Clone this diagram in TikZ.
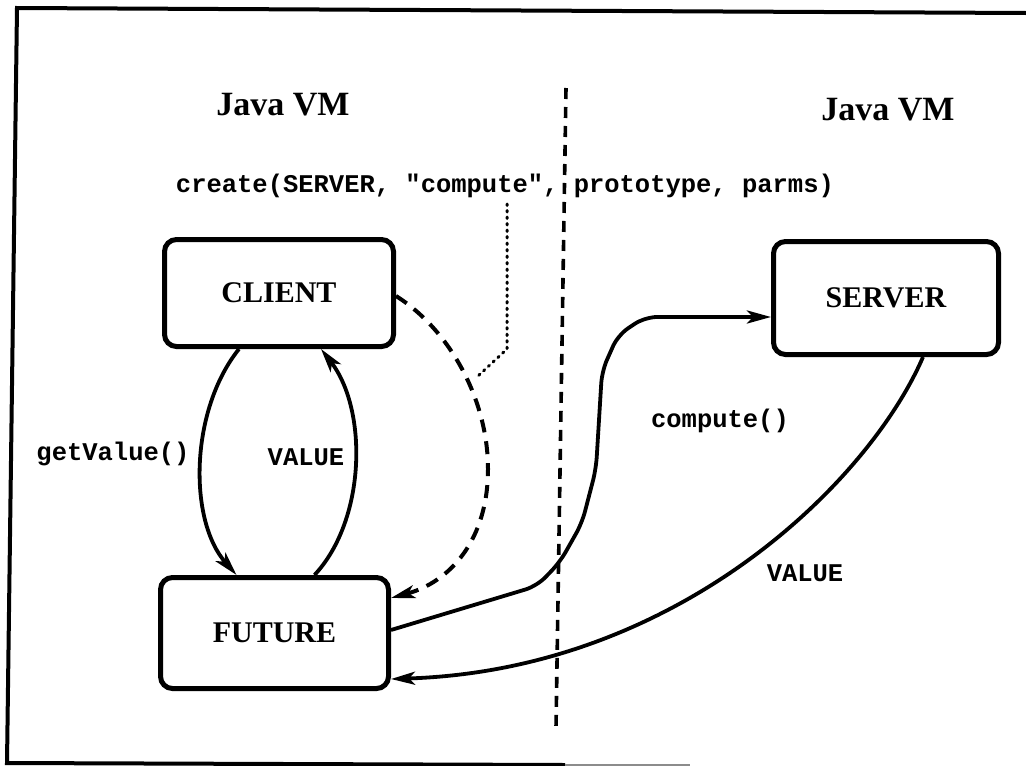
\documentclass[tikz,border=0pt]{standalone}
\usepackage{fontspec}
\setmainfont{Liberation Serif}
\setmonofont{Liberation Mono}
\usetikzlibrary{arrows.meta}
\begin{document}
\begin{tikzpicture}[x=1pt,y=-1pt,
  box/.style={draw,line width=5pt,rounded corners=12pt,inner sep=0pt,
    font=\fontsize{30}{34}\selectfont\bfseries},
  code/.style={font=\fontsize{25.5}{30}\selectfont\ttfamily\bfseries,inner sep=0pt},
  vmtitle/.style={font=\fontsize{34}{40}\selectfont\bfseries,inner sep=0pt},
  tip/.style={-{Stealth[length=24pt,width=13pt,inset=6pt]}},
  conn/.style={line width=3.8pt,tip},
  dashconn/.style={line width=4pt,dash pattern=on 13pt off 9pt,tip},
  divider/.style={line width=3.6pt,dash pattern=on 11pt off 8pt},
  dotline/.style={line width=3pt,line cap=round,dash pattern=on 1.5pt off 5pt},
  frameline/.style={line width=4pt}]
\useasboundingbox (0,0) rectangle (1026,766);
% frame
\draw[frameline] (1026,13) -- (17,8) -- (7,763) -- (565,765);
\draw[line width=2.5pt,black!45] (565,765) -- (690,765);
% titles
\node[vmtitle] (vmL) at (283,105) {Java VM};
\node[vmtitle] (vmR) at (888,110) {Java VM};
\node[code] (create) at (505,186) {create(SERVER, "compute", prototype, parms)};
% boxes
\node[box,minimum width=229pt,minimum height=107pt] (client) at (279,293) {CLIENT};
\node[box,minimum width=225pt,minimum height=113pt] (server) at (886,298) {SERVER};
\node[box,minimum width=228pt,minimum height=111pt] (future) at (274.5,633) {FUTURE};
% divider
\coordinate (divtop) at (566,88);
\coordinate (divbot) at (556,728);
\draw[divider] (divtop) -- (divbot);
% dotted pointer from "compute"
\coordinate (dotA) at (507,204);
\coordinate (dotB) at (507,349);
\coordinate (dotC) at (478,376);
\draw[dotline] (dotA) -- (dotB) -- (dotC);
% getValue / VALUE
\draw[conn] ([xshift=-40pt]client.south) .. controls (190,410) and (188,520) .. ([xshift=-38pt]future.north);
\draw[conn] ([xshift=40pt]future.north) .. controls (366,520) and (368,410) .. ([xshift=42pt]client.south);
\node[code] (lgv) at (113,454) {getValue()};
\node[code] (lv1) at (306,457) {VALUE};
% dashed create
\draw[dashconn] ([yshift=-3pt]client.east) .. controls (450,330) and (488,400) .. (488,469)
   .. controls (488,540) and (450,582) .. ([yshift=35pt]future.east);
% compute()
\draw[conn,rounded corners=12pt] ([yshift=3pt]future.east) -- (537,586) -- (560,562) -- (582,523)
   -- (596,469) -- (602,371) -- (618,335) -- (645,317) -- ([yshift=-19pt]server.west);
\node[code] (lc) at (720,421) {compute()};
% VALUE back
\draw[conn] ([xshift=37pt]server.south) .. controls (870,480) and (680,670) .. ([yshift=-46pt]future.east);
\node[code] (lv2) at (805,573) {VALUE};
\end{tikzpicture}
\end{document}
